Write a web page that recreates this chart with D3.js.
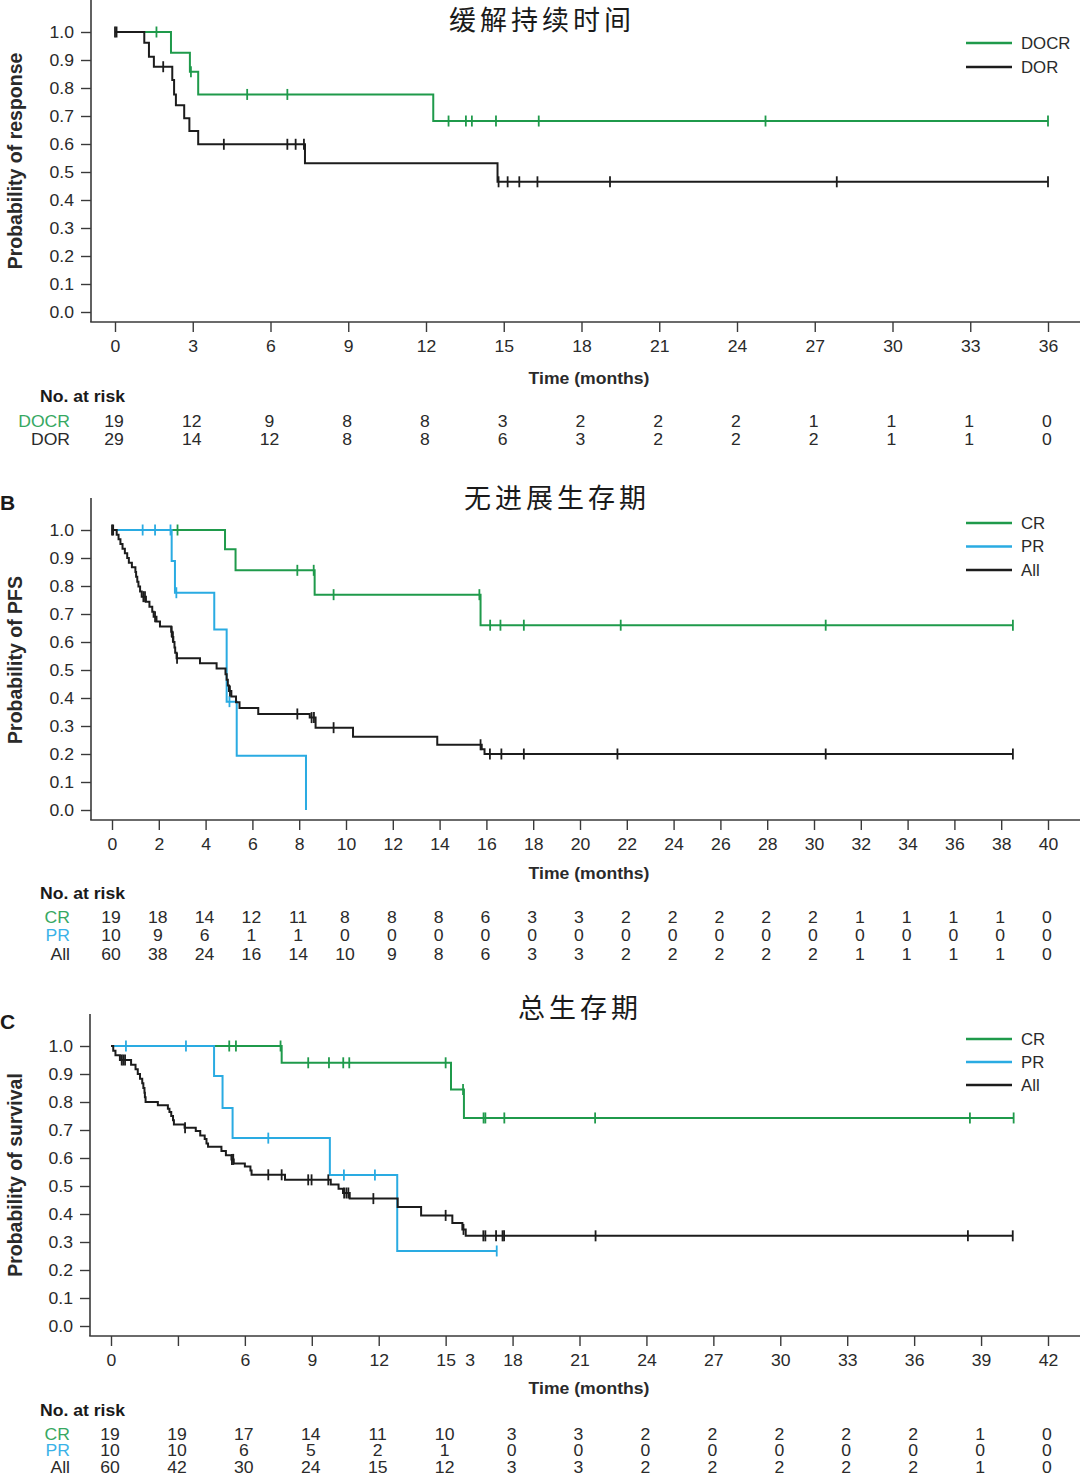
<!DOCTYPE html>
<html><head><meta charset="utf-8">
<script src="https://cdn.jsdelivr.net/npm/d3@7"></script>
<style>body{margin:0;background:#fff} svg{display:block}</style>
</head><body>
<svg id="chart" width="1080" height="1477"></svg>
<script>
// ---------------- DATA ----------------
const yTicks = [0,0.1,0.2,0.3,0.4,0.5,0.6,0.7,0.8,0.9,1.0];

// Panel A
const titleA = "缓解持续时间";
const ticksA = [0,3,6,9,12,15,18,21,24,27,30,33,36];
const tickLabelsA = ["0","3","6","9","12","15","18","21","24","27","30","33","36"];
const riskA_DOCR = [19,12,9,8,8,3,2,2,2,1,1,1,0];
const riskA_DOR  = [29,14,12,8,8,6,3,2,2,2,1,1,0];
const docrSteps = [[2.16,0.926],[2.89,0.858],[3.21,0.777],[12.28,0.682]];
const docrEnd = 36;
const docrCensor = [1.6,2.93,5.1,6.65,12.87,13.54,13.77,14.7,16.35,25.1,36];
const dorSteps = [[1.13,0.962],[1.31,0.912],[1.5,0.876],[2.21,0.829],[2.28,0.777],[2.35,0.738],[2.67,0.692],[2.87,0.646],[3.21,0.599],[7.33,0.531],[14.76,0.465]];
const dorEnd = 36;
const dorCensor = [0,0.06,1.86,4.2,6.65,6.97,7.29,14.8,15.15,15.6,16.3,19.1,27.85,36];

// Panel B
const titleB = "无进展生存期";
const ticksB = [0,2,4,6,8,10,12,14,16,18,20,22,24,26,28,30,32,34,36,38,40];
const tickLabelsB = ticksB.map(String);
const riskB_CR  = [19,18,14,12,11,8,8,8,6,3,3,2,2,2,2,2,1,1,1,1,0];
const riskB_PR  = [10,9,6,1,1,0,0,0,0,0,0,0,0,0,0,0,0,0,0,0,0];
const riskB_All = [60,38,24,16,14,10,9,8,6,3,3,2,2,2,2,2,1,1,1,1,0];
const crBSteps = [[4.83,0.931],[5.28,0.856],[8.66,0.769],[15.75,0.66]];
const crBEnd = 38.5;
const crBCensor = [2.8,7.92,8.62,9.47,15.7,16.16,16.6,17.6,21.74,30.5,38.5];
const prBSteps = [[2.55,0.889],[2.69,0.776],[4.37,0.645],[4.9,0.387],[5.33,0.194],[8.29,0]];
const prBEnd = 8.29;
const prBCensor = [1.31,1.84,2.5,2.75,5.02];
const allBSteps = [[0.2,0.983],[0.28,0.967],[0.36,0.95],[0.45,0.933],[0.55,0.917],[0.65,0.9],[0.72,0.883],[0.85,0.867],[1.0,0.85],[1.03,0.833],[1.08,0.815],[1.13,0.798],[1.2,0.78],[1.27,0.762],[1.45,0.744],[1.6,0.726],[1.72,0.708],[1.78,0.69],[1.9,0.673],[2.05,0.655],[2.53,0.637],[2.58,0.618],[2.62,0.6],[2.67,0.58],[2.7,0.562],[2.76,0.542],[3.76,0.524],[4.47,0.505],[4.85,0.485],[4.9,0.465],[4.95,0.445],[5.0,0.425],[5.1,0.405],[5.3,0.385],[5.45,0.364],[6.25,0.343],[8.45,0.33],[8.7,0.294],[10.3,0.262],[13.9,0.233],[15.8,0.217],[15.92,0.2]];
const allBEnd = 38.5;
const allBCensor = [0,0.05,1.34,1.41,1.84,2.55,2.6,2.78,5.04,7.92,8.53,8.63,9.47,15.75,16.15,16.64,17.6,21.6,30.5,38.5];

// Panel C
const titleC = "总生存期";
const ticksC = [0,3,6,9,12,15,18,21,24,27,30,33,36,39,42];
const tickLabelsC = ["0","","6","9","12","15","18","21","24","27","30","33","36","39","42"];
const strayLabelC = "3";
const riskC_CR  = [19,19,17,14,11,10,3,3,2,2,2,2,2,1,0];
const riskC_PR  = [10,10,6,5,2,1,0,0,0,0,0,0,0,0,0];
const riskC_All = [60,42,30,24,15,12,3,3,2,2,2,2,2,1,0];
const crCSteps = [[7.65,0.94],[15.24,0.845],[15.82,0.743]];
const crCEnd = 40.46;
const crCCensor = [5.3,5.6,7.6,8.84,9.77,10.41,10.68,15.0,15.78,16.7,16.78,17.63,21.7,38.5,40.46];
const prCSteps = [[4.62,0.893],[5.0,0.779],[5.45,0.671],[9.81,0.539],[12.83,0.268]];
const prCEnd = 17.29;
const prCCensor = [0.67,3.36,7.05,10.44,11.83,17.29];
const allCSteps = [[0.1,0.983],[0.2,0.967],[0.4,0.95],[0.9,0.933],[1.1,0.917],[1.2,0.9],[1.3,0.883],[1.4,0.867],[1.45,0.85],[1.5,0.833],[1.52,0.817],[1.55,0.8],[2.1,0.788],[2.55,0.776],[2.62,0.764],[2.7,0.75],[2.78,0.735],[2.82,0.72],[3.3,0.708],[3.8,0.696],[4.0,0.68],[4.2,0.668],[4.28,0.652],[4.35,0.64],[4.95,0.625],[5.15,0.61],[5.4,0.595],[5.5,0.58],[6.0,0.57],[6.25,0.555],[6.3,0.54],[7.8,0.522],[9.85,0.505],[10.2,0.49],[10.4,0.475],[10.7,0.455],[12.85,0.425],[13.9,0.395],[15.3,0.368],[15.75,0.345],[15.9,0.322]];
const allCEnd = 40.42;
const allCCensor = [0.48,0.55,0.63,3.32,5.42,5.48,7.05,7.65,8.84,8.99,9.74,10.45,10.55,10.64,11.76,15.0,15.8,16.69,16.78,17.26,17.55,17.62,21.72,38.41,40.42];

// ---------------- DRAWING ----------------
const GREEN = "#1f9a4b", BLUE = "#2aabe2", BLACK = "#1c1c1c", AXIS = "#3a3a3a";
const GREEN_T = "#36a862", BLUE_T = "#3ab2e8";
const FONT = "'Liberation Sans', Arial, Helvetica, sans-serif";
const SX = 1.1;
const svg = d3.select("#chart");

function survAt(steps, t) {
  let p = 1;
  for (const [st, sp] of steps) { if (st <= t) p = sp; else break; }
  return p;
}
function stretch(sel, sx) {
  sel.each(function () {
    const t = d3.select(this);
    const x = +t.attr("x") || 0, y = +t.attr("y") || 0;
    t.attr("transform", `translate(${x},${y}) scale(${sx},1) translate(${-x},${-y})`);
  });
}

function drawPanel(cfg) {
  const x = d3.scaleLinear().domain([0, cfg.tmax]).range([cfg.x0px, cfg.x1px]);
  const y = d3.scaleLinear().domain([0, 1]).range([cfg.y0, cfg.y1]);
  const g = svg.append("g");

  g.append("line").attr("x1", cfg.axisX).attr("x2", cfg.axisX).attr("y1", cfg.yTop).attr("y2", cfg.xAxisY)
    .attr("stroke", AXIS).attr("stroke-width", 1.6);
  g.append("line").attr("x1", cfg.axisX - 0.8).attr("x2", 1080).attr("y1", cfg.xAxisY).attr("y2", cfg.xAxisY)
    .attr("stroke", AXIS).attr("stroke-width", 1.6);

  const ya = g.append("g").attr("transform", `translate(${cfg.axisX},0)`)
    .call(d3.axisLeft(y).tickValues(yTicks).tickFormat(d3.format(".1f")).tickSize(10).tickPadding(7));
  ya.select(".domain").remove();
  const xa = g.append("g").attr("transform", `translate(0,${cfg.xAxisY})`)
    .call(d3.axisBottom(x).tickValues(cfg.ticks).tickFormat((d, i) => cfg.tickLabels[i]).tickSize(10).tickPadding(9));
  xa.select(".domain").remove();
  [ya, xa].forEach(a => {
    a.selectAll("line").attr("stroke", AXIS).attr("stroke-width", 1.4);
    a.selectAll("text").attr("font-family", FONT).attr("font-size", 16).attr("fill", "#2a2a2a");
    stretch(a.selectAll("text"), SX);
  });

  if (cfg.stray) {
    g.append("text").attr("class", "s").attr("x", x(cfg.stray.t)).attr("y", cfg.xAxisY + 30).attr("text-anchor", "middle")
      .attr("font-family", FONT).attr("font-size", 16).attr("fill", "#2a2a2a").text(cfg.stray.label);
  }

  const line = d3.line().x(d => x(d[0])).y(d => y(d[1])).curve(d3.curveStepAfter);
  cfg.series.forEach(s => {
    const pts = [[0, 1], ...s.steps];
    const last = pts[pts.length - 1];
    if (last[0] < s.end) pts.push([s.end, last[1]]);
    g.append("path").attr("d", line(pts)).attr("fill", "none").attr("stroke", s.color).attr("stroke-width", 2);
    g.selectAll(null).data(s.censor).enter().append("line")
      .attr("x1", d => x(d)).attr("x2", d => x(d))
      .attr("y1", d => y(survAt(s.steps, d)) - 5.5).attr("y2", d => y(survAt(s.steps, d)) + 5.5)
      .attr("stroke", s.color).attr("stroke-width", 1.8);
  });

  g.append("text").attr("x", cfg.titleX).attr("y", cfg.titleY).attr("text-anchor", "middle")
    .attr("font-family", "'Noto Sans CJK SC', sans-serif").attr("font-size", 27).attr("letter-spacing", 4)
    .attr("fill", "#1a1a1a").text(cfg.title);

  if (cfg.letter) {
    g.append("text").attr("x", 0).attr("y", cfg.letterY).attr("font-family", FONT).attr("font-weight", "bold")
      .attr("font-size", 21).attr("fill", "#1a1a1a").text(cfg.letter);
  }

  g.append("text").attr("transform", `translate(22,${cfg.ylabelY}) rotate(-90)`).attr("text-anchor", "middle")
    .attr("font-family", FONT).attr("font-weight", "bold").attr("font-size", 19.5).attr("fill", "#2a2a2a").text(cfg.ylabel);

  g.append("text").attr("class", "s").attr("x", 589).attr("y", cfg.xlabelY).attr("text-anchor", "middle")
    .attr("font-family", FONT).attr("font-weight", "bold").attr("font-size", 16).attr("fill", "#2a2a2a").text("Time (months)");

  cfg.series.forEach((s, i) => {
    const ly = cfg.legendY + i * cfg.legendGap;
    g.append("line").attr("x1", 966).attr("x2", 1012).attr("y1", ly).attr("y2", ly).attr("stroke", s.color).attr("stroke-width", 2.5);
    g.append("text").attr("class", "l").attr("x", 1021).attr("y", ly + 6).attr("font-family", FONT).attr("font-size", 16)
      .attr("fill", "#2a2a2a").text(s.name);
  });

  g.append("text").attr("class", "s").attr("x", 40).attr("y", cfg.riskTitleY).attr("font-family", FONT).attr("font-weight", "bold")
    .attr("font-size", 16).attr("fill", "#1a1a1a").text("No. at risk");
  cfg.risk.forEach((r, i) => {
    const ry = cfg.riskY0 + i * cfg.riskGap;
    g.append("text").attr("class", "s").attr("x", 70).attr("y", ry).attr("text-anchor", "end").attr("font-family", FONT)
      .attr("font-size", 16).attr("fill", r.color).text(r.name);
    g.selectAll(null).data(r.values).enter().append("text").attr("class", "s")
      .attr("x", (d, j) => x(cfg.ticks[j]) - 1).attr("y", ry).attr("text-anchor", "middle")
      .attr("font-family", FONT).attr("font-size", 16).attr("fill", "#2a2a2a").text(d => d);
  });
}

drawPanel({
  tmax: 36, x0px: 115, x1px: 1048, y0: 312, y1: 32, axisX: 91, yTop: 0, xAxisY: 322,
  ticks: ticksA, tickLabels: tickLabelsA, title: titleA, titleX: 542, titleY: 30,
  ylabel: "Probability of response", ylabelY: 161, xlabelY: 384,
  legendY: 43, legendGap: 24,
  series: [
    {name: "DOCR", steps: docrSteps, end: docrEnd, censor: docrCensor, color: GREEN},
    {name: "DOR", steps: dorSteps, end: dorEnd, censor: dorCensor, color: BLACK}
  ],
  riskTitleY: 402, riskY0: 427, riskGap: 18,
  risk: [
    {name: "DOCR", values: riskA_DOCR, color: GREEN_T},
    {name: "DOR", values: riskA_DOR, color: "#2a2a2a"}
  ]
});

drawPanel({
  tmax: 40, x0px: 112, x1px: 1048, y0: 810, y1: 530, axisX: 91, yTop: 498, xAxisY: 820,
  ticks: ticksB, tickLabels: tickLabelsB, title: titleB, titleX: 557, titleY: 508,
  letter: "B", letterY: 510,
  ylabel: "Probability of PFS", ylabelY: 660, xlabelY: 879,
  legendY: 523, legendGap: 23.5,
  series: [
    {name: "CR", steps: crBSteps, end: crBEnd, censor: crBCensor, color: GREEN},
    {name: "PR", steps: prBSteps, end: prBEnd, censor: prBCensor, color: BLUE},
    {name: "All", steps: allBSteps, end: allBEnd, censor: allBCensor, color: BLACK}
  ],
  riskTitleY: 899, riskY0: 923, riskGap: 18.5,
  risk: [
    {name: "CR", values: riskB_CR, color: GREEN_T},
    {name: "PR", values: riskB_PR, color: BLUE_T},
    {name: "All", values: riskB_All, color: "#2a2a2a"}
  ]
});

drawPanel({
  tmax: 42, x0px: 111, x1px: 1048, y0: 1326, y1: 1046, axisX: 90, yTop: 1014, xAxisY: 1336,
  ticks: ticksC, tickLabels: tickLabelsC, title: titleC, titleX: 580, titleY: 1018,
  letter: "C", letterY: 1029, stray: {t: 16.1, label: strayLabelC},
  ylabel: "Probability of survival", ylabelY: 1175, xlabelY: 1394,
  legendY: 1039, legendGap: 23,
  series: [
    {name: "CR", steps: crCSteps, end: crCEnd, censor: crCCensor, color: GREEN},
    {name: "PR", steps: prCSteps, end: prCEnd, censor: prCCensor, color: BLUE},
    {name: "All", steps: allCSteps, end: allCEnd, censor: allCCensor, color: BLACK}
  ],
  riskTitleY: 1416, riskY0: 1440, riskGap: 16.5,
  risk: [
    {name: "CR", values: riskC_CR, color: GREEN_T},
    {name: "PR", values: riskC_PR, color: BLUE_T},
    {name: "All", values: riskC_All, color: "#2a2a2a"}
  ]
});

stretch(svg.selectAll("text.s"), SX);
stretch(svg.selectAll("text.l"), 1.05);
</script>
</body></html>
